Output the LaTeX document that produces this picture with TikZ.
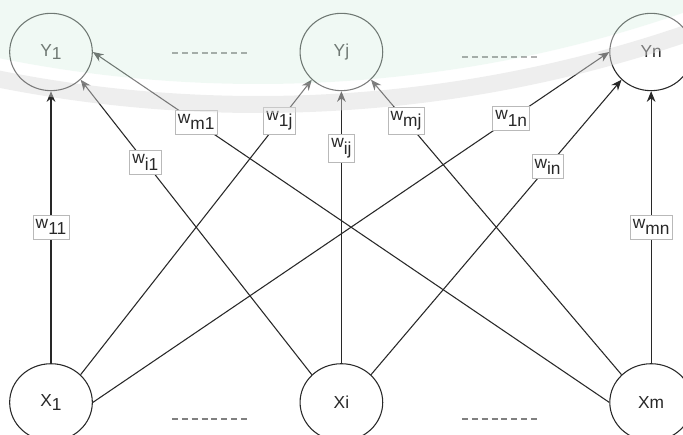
\documentclass[tikz,border=0pt]{standalone}
\usepackage{fontspec}
\setmainfont{Liberation Sans}
\usetikzlibrary{arrows.meta,positioning,shapes.geometric}
\definecolor{linegray}{RGB}{40,40,40}
\definecolor{boxgray}{RGB}{185,185,185}
\definecolor{mint}{rgb}{0.86,0.95,0.90}
\definecolor{ringgray}{rgb}{0.86,0.86,0.86}
\newcommand{\sbs}[1]{\raisebox{-2.6pt}{#1}}
\newcommand{\wt}[1]{w\raisebox{-4.8pt}{#1}}

\begin{document}
\begin{tikzpicture}[x=0.75pt,y=0.75pt,
    every node/.style={font=\fontsize{13}{15}\selectfont},
    unit/.style={draw=linegray,ellipse,minimum width=62pt,minimum height=58pt,
                 inner sep=0pt,line width=0.8pt,text=linegray},
    wgt/.style={-{Stealth[length=8pt,width=6.5pt]},draw=linegray,line width=0.8pt},
    wlab/.style={draw=boxgray,fill=white,inner xsep=2pt,inner ysep=3.2pt,
                 text=linegray,line width=0.6pt},
    skipline/.style={draw=gray,dash pattern=on 4.5pt off 2.9pt,line width=1pt}]
  \useasboundingbox (0,0) rectangle (683,435);
  \clip (0,0) rectangle (683,435);
  \fill[white] (0,0) rectangle (683,435);

  % output layer
  \node[unit] (y1) at (51,383) {Y\sbs{1}};
  \node[unit,right=155pt of y1] (yj) {Yj};
  \node[unit,right=169.5pt of yj] (yn) {Yn};
  % input layer
  \node[unit,below=204pt of y1] (x1) {X\sbs{1}};
  \node[unit,below=204pt of yj] (xi) {Xi};
  \node[unit,below=204pt of yn] (xm) {Xm};

  \draw[skipline] (172,382) -- (247,382);
  \draw[skipline] (462,378) -- (537,378);
  \draw[skipline] (172,16) -- (247,16);
  \draw[skipline] (462,16) -- (537,16);

  % weights
  \draw[wgt] (x1.north) -- node[wlab,pos=0.5] {\wt{11}} (y1.south);
  \draw[wgt] (xi.north west) -- node[wlab,pos=0.72] {\wt{i1}} (y1.south east);
  \draw[wgt] (xm.west) -- node[wlab,pos=0.8] {\wt{m1}} (y1.east);
  \draw[wgt] (x1.north east) -- node[wlab,pos=0.86] {\wt{1j}} (yj.south west);
  \draw[wgt] (xi.north) -- node[wlab,pos=0.79] {\wt{ij}} (yj.south);
  \draw[wgt] (xm.north west) -- node[wlab,pos=0.86] {\wt{mj}} (yj.south east);
  \draw[wgt] (x1.east) -- node[wlab,pos=0.81] {\wt{1n}} (yn.west);
  \draw[wgt] (xi.north east) -- node[wlab,pos=0.705] {\wt{in}} (yn.south west);
  \draw[wgt] (xm.north) -- node[wlab,pos=0.5] {\wt{mn}} (yn.south);

  % faded seal behind the top row
  \fill[mint,fill opacity=0.4] (258,1651) circle[radius=1300];
  \fill[white,fill opacity=0.4,even odd rule]
    (258,1651) circle[radius=1312] (258,1651) circle[radius=1300];
  \fill[ringgray,fill opacity=0.45,even odd rule]
    (258,1651) circle[radius=1329] (258,1651) circle[radius=1312];
\end{tikzpicture}
\end{document}
